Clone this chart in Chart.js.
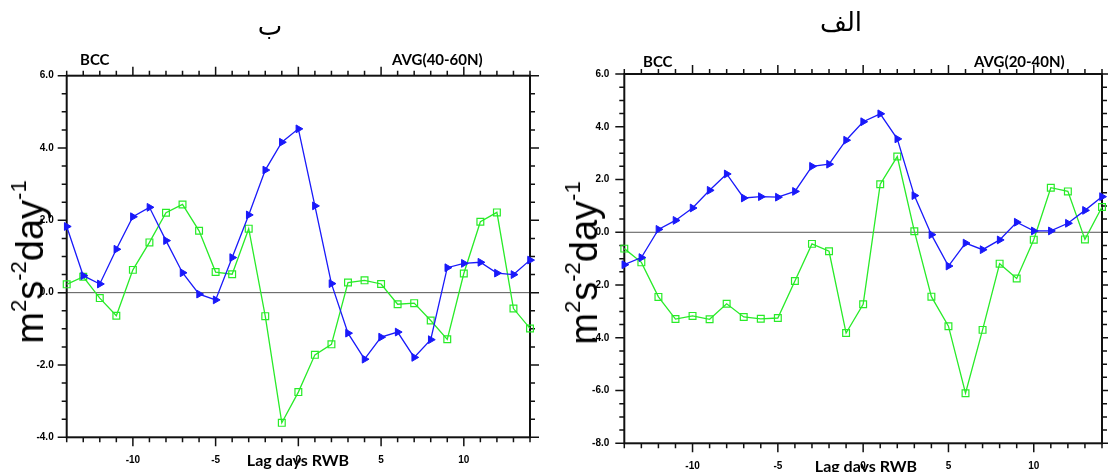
<!DOCTYPE html>
<html>
<head>
<meta charset="utf-8">
<script src="https://cdn.jsdelivr.net/npm/chart.js@4.4.1/dist/chart.umd.min.js"></script>
<style>
    body { margin: 0; background: #fff; }
    #page { position: relative; width: 1108px; height: 472px; overflow: hidden; background: #fff; }
    canvas { position: absolute; top: 0; }
    .lbl { position: absolute; white-space: nowrap; line-height: 1; transform: translate(-50%, -50%); color: #000; }
    .title { font-family: 'DejaVu Sans', sans-serif; font-size: 26px; }
    .corner { font-family: Lato, 'Open Sans', sans-serif; font-weight: bold; font-size: 15px; transform: translate(0, -50%); }
    .xname { font-family: Lato, 'Open Sans', sans-serif; font-weight: bold; font-size: 16px; }
    .yname { font-family: 'Liberation Sans', Arial, sans-serif; font-size: 38px; transform: translate(-50%, -50%) rotate(-90deg); }
    .yname sup { font-size: 58%; vertical-align: 0.75em; line-height: 0; }
</style>
</head>
<body>
<div id="page">
    <canvas id="leftChart" width="554" height="472" style="left:0px"></canvas>
    <canvas id="rightChart" width="554" height="472" style="left:554px"></canvas>

    <div class="lbl title" style="left:270px; top:26px">ب</div>
    <div class="lbl title" style="left:841px; top:22px">الف</div>

    <div class="lbl corner" style="left:80px; top:59px">BCC</div>
    <div class="lbl corner" style="left:392px; top:59px">AVG(40-60N)</div>
    <div class="lbl corner" style="left:643px; top:61px">BCC</div>
    <div class="lbl corner" style="left:974px; top:61px">AVG(20-40N)</div>

    <div class="lbl xname" style="left:298px; top:460px">Lag days RWB</div>
    <div class="lbl xname" style="left:866px; top:466px">Lag days RWB</div>

    <div class="lbl yname" style="left:30px; top:262px">m<sup>2</sup>s<sup>-2</sup>day<sup>-1</sup></div>
    <div class="lbl yname" style="left:584px; top:263px">m<sup>2</sup>s<sup>-2</sup>day<sup>-1</sup></div>
</div>
<script>
// lag in days relative to the RWB event
const lagDays = [-14, -13, -12, -11, -10, -9, -8, -7, -6, -5, -4, -3, -2, -1, 0,
    1, 2, 3, 4, 5, 6, 7, 8, 9, 10, 11, 12, 13, 14]

// left panel, AVG(40-60N)
const blue4060 = [1.83, 0.47, 0.24, 1.2, 2.1, 2.36, 1.44, 0.55, -0.04, -0.2, 0.97, 2.15, 3.39, 4.16, 4.53,
    2.4, 0.25, -1.12, -1.84, -1.23, -1.09, -1.79, -1.3, 0.69, 0.81, 0.84, 0.54, 0.5, 0.9]
const green4060 = [0.23, 0.44, -0.15, -0.64, 0.63, 1.39, 2.21, 2.44, 1.71, 0.57, 0.51, 1.77, -0.65, -3.6, -2.75,
    -1.72, -1.43, 0.28, 0.34, 0.24, -0.32, -0.29, -0.77, -1.29, 0.53, 1.96, 2.22, -0.44, -0.99]

// right panel, AVG(20-40N)
const blue2040 = [-1.23, -0.96, 0.11, 0.45, 0.92, 1.59, 2.21, 1.3, 1.35, 1.33, 1.55, 2.5, 2.58, 3.49, 4.19,
    4.49, 3.54, 1.39, -0.09, -1.28, -0.41, -0.66, -0.29, 0.38, 0.05, 0.05, 0.34, 0.83, 1.35]
const green2040 = [-0.62, -1.14, -2.45, -3.29, -3.17, -3.3, -2.71, -3.21, -3.28, -3.25, -1.85, -0.44, -0.72, -3.82, -2.73,
    1.82, 2.87, 0.04, -2.44, -3.56, -6.1, -3.7, -1.19, -1.75, -0.28, 1.69, 1.55, -0.27, 0.96]

// axis ranges
const leftRange = [-4, 6]
const rightRange = [-8, 6]

const BLUE = 'rgb(25, 25, 250)'
const GREEN = 'rgb(40, 235, 40)'
const TICK_FONT = { family: "'Liberation Sans', Arial, sans-serif", size: 10, weight: 'bold' }

// frame, zero line and NCL-style outward tick marks
const frameTicks = {
    id: 'frameTicks',
    beforeDatasetsDraw(chart) {
        const { ctx, chartArea: a, scales: { x, y } } = chart
        ctx.save()

        const y0 = y.getPixelForValue(0)
        ctx.strokeStyle = '#555'
        ctx.lineWidth = 1
        ctx.beginPath()
        ctx.moveTo(a.left, y0)
        ctx.lineTo(a.right, y0)
        ctx.stroke()

        ctx.strokeStyle = '#111'
        ctx.lineWidth = 1.5
        ctx.beginPath()
        for (let d = x.min; d <= x.max; d++) {
            const px = x.getPixelForValue(d)
            const len = d % 5 === 0 ? 9 : 5
            ctx.moveTo(px, a.bottom)
            ctx.lineTo(px, a.bottom + len)
            ctx.moveTo(px, a.top)
            ctx.lineTo(px, a.top - len)
        }
        for (let v = y.min; v <= y.max + 1e-6; v += 0.5) {
            const py = y.getPixelForValue(v)
            const len = Math.abs(v % 2) < 1e-6 ? 9 : 5
            ctx.moveTo(a.left, py)
            ctx.lineTo(a.left - len, py)
            ctx.moveTo(a.right, py)
            ctx.lineTo(a.right + len, py)
        }
        ctx.stroke()

        ctx.lineWidth = 2
        ctx.strokeRect(a.left, a.top, a.right - a.left, a.bottom - a.top)
        ctx.restore()
    },
}

const toPoints = values => lagDays.map((d, i) => ({ x: d, y: values[i] }))

const makePanel = (id, blue, green, range, box) => {
    const ctx = document.getElementById(id).getContext('2d')
    return new Chart(ctx, {
        type: 'line',
        data: {
            datasets: [
                {
                    label: 'blue',
                    data: toPoints(blue),
                    borderColor: BLUE,
                    borderWidth: 1.3,
                    pointStyle: 'triangle',
                    rotation: 90,
                    pointRadius: 4.5,
                    pointBackgroundColor: BLUE,
                    pointBorderColor: BLUE,
                    pointBorderWidth: 1,
                    clip: false,
                },
                {
                    label: 'green',
                    data: toPoints(green),
                    borderColor: GREEN,
                    borderWidth: 1.3,
                    pointStyle: 'rect',
                    pointRadius: 4.8,
                    pointBackgroundColor: 'rgba(255, 255, 255, 0)',
                    pointBorderColor: GREEN,
                    pointBorderWidth: 1.2,
                    clip: false,
                },
            ],
        },
        options: {
            responsive: false,
            animation: false,
            devicePixelRatio: 1,
            events: [],
            layout: { padding: { top: box.top, right: box.right, left: 0, bottom: 0 } },
            plugins: { legend: { display: false }, tooltip: { enabled: false } },
            scales: {
                x: {
                    type: 'linear',
                    min: -14,
                    max: 14,
                    afterFit: s => { s.height = box.xh },
                    grid: { display: false, drawTicks: false },
                    border: { display: false },
                    ticks: {
                        stepSize: 5,
                        includeBounds: false,
                        padding: 17,
                        maxRotation: 0,
                        autoSkip: false,
                        color: '#000',
                        font: TICK_FONT,
                        callback: v => String(v),
                    },
                },
                y: {
                    min: range[0],
                    max: range[1],
                    afterFit: s => { s.width = box.yw },
                    grid: { display: false, drawTicks: false },
                    border: { display: false },
                    ticks: {
                        stepSize: 2,
                        padding: box.pad,
                        color: '#000',
                        font: TICK_FONT,
                        callback: v => v.toFixed(1),
                    },
                },
            },
        },
        plugins: [frameTicks],
    })
}

makePanel('leftChart', blue4060, green4060, leftRange,
    { top: 75.7, right: 24, xh: 34.7, yw: 66.7, pad: 13 })
makePanel('rightChart', blue2040, green2040, rightRange,
    { top: 74, right: 0.7, xh: 28.7, yw: 70.3, pad: 15 })
</script>
</body>
</html>
